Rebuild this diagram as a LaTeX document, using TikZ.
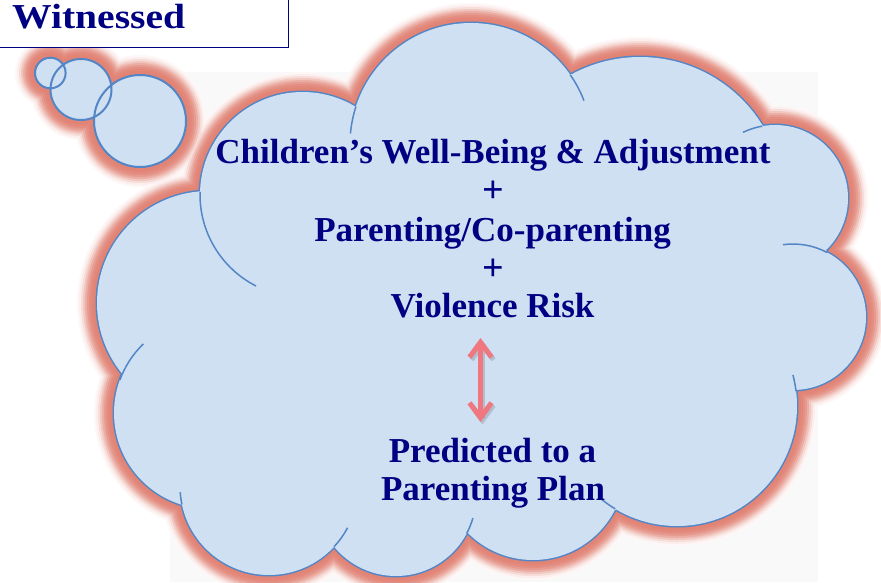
\documentclass[tikz,border=0pt]{standalone}
\usepackage{fontspec}
\usepackage{graphicx}
\setmainfont{Liberation Serif}
\usetikzlibrary{arrows.meta}
\definecolor{navy}{RGB}{0,0,130}
\definecolor{cfill}{RGB}{207,224,242}
\definecolor{cline}{RGB}{82,134,198}
\definecolor{glowc}{RGB}{220,112,96}
\definecolor{arrowc}{RGB}{240,118,128}
\definecolor{bggray}{RGB}{249,249,249}
\tikzset{
  cloudcircles/.style={insert path={
    (cA) circle[radius=102.6] (cB) circle[radius=121] (cC) circle[radius=144]
    (cD) circle[radius=73] (cE) circle[radius=73] (cF) circle[radius=120]
    (cG) circle[radius=92] (cH) circle[radius=80] (cI) circle[radius=89]
    (cJ) circle[radius=96] (cK) circle[radius=112]}},
  cloudpoly/.style={insert path={
    (k1) -- (k2) -- (k3) -- (k4) -- (k5) -- (k6) -- (k7) -- (k8) -- (k9) -- (k10) -- (k11) -- cycle}},
  bubbles/.style={insert path={
    (b1) circle[radius=15.3] (b2) circle[radius=30.5] (b3) circle[radius=46]}},
  txt/.style={text=navy, font=\bfseries\fontsize{35}{42}\selectfont, inner sep=0pt, anchor=base},
  plus/.style={text=navy, font=\bfseries\fontsize{38}{42}\selectfont, inner sep=0pt, anchor=center},
  inner/.style={draw=cline, line width=1.5pt},
  tipbarb/.tip={Straight Barb[length=15pt,width=22pt,line width=5pt]},
}
\begin{document}
\begin{tikzpicture}[x=1pt,y=-1pt]
\useasboundingbox (0,0) rectangle (881,582);
% centres
\coordinate (cA) at (302.6,194.6);
\coordinate (cB) at (471,144);
\coordinate (cC) at (640,201);
\coordinate (cD) at (775,198);
\coordinate (cE) at (793,317);
\coordinate (cF) at (677,406);
\coordinate (cG) at (533,468);
\coordinate (cH) at (396,496);
\coordinate (cI) at (269,486);
\coordinate (cJ) at (210,413);
\coordinate (cK) at (209,303);
% cusps
\coordinate (k1) at (200,192);
\coordinate (k2) at (356,107);
\coordinate (k3) at (572,74);
\coordinate (k4) at (762,125);
\coordinate (k5) at (827,252);
\coordinate (k6) at (795,391);
\coordinate (k7) at (615,510);
\coordinate (k8) at (466,533);
\coordinate (k9) at (334,547);
\coordinate (k10) at (182,505);
\coordinate (k11) at (121,380);
% bubbles
\coordinate (b1) at (50.3,73);
\coordinate (b2) at (81,89.5);
\coordinate (b3) at (140,121);
% background
\fill[bggray] (170,72) rectangle (818,582);
% glow
\begin{scope}[shift={(1,2)}]
\foreach \w/\p in {40/5,36/12,32/24,28/40,24/57,20/70,16/79,12/84,8/87}{
  \path[draw=glowc!\p!white, line width=\w pt, line join=round] [cloudcircles] [bubbles];
}
\end{scope}
% cloud outline and fill
\path[draw=cline, line width=3pt] [cloudcircles];
\path[fill=cfill] [cloudcircles];
\path[fill=cfill] [cloudpoly];
% inner arcs
\draw[inner] ([shift={(198:121)}]cB) arc[start angle=198, end angle=185, radius=121];
\draw[inner] ([shift={(325:121)}]cB) arc[start angle=325, end angle=339, radius=121];
\draw[inner] ([shift={(260:73)}]cD) arc[start angle=260, end angle=244, radius=73];
\draw[inner] ([shift={(298:73)}]cE) arc[start angle=298, end angle=262, radius=73];
\draw[inner] ([shift={(-7:120)}]cF) arc[start angle=-7, end angle=-15, radius=120];
\draw[inner] ([shift={(121:120)}]cF) arc[start angle=121, end angle=129, radius=120];
\draw[inner] ([shift={(28:80)}]cH) arc[start angle=28, end angle=16, radius=80];
\draw[inner] ([shift={(43:89)}]cI) arc[start angle=43, end angle=28, radius=89];
\draw[inner] ([shift={(168:89)}]cI) arc[start angle=168, end angle=176, radius=89];
\draw[inner] ([shift={(200:96)}]cJ) arc[start angle=200, end angle=226, radius=96];
\draw[inner] ([shift={(181.5:102.6)}]cA) arc[start angle=181.5, end angle=117, radius=102.6];
% thought bubbles
\path[fill=cfill] [bubbles];
\path[draw=cline, line width=2pt] [bubbles];
% Witnessed box
\node[draw=navy, fill=white, line width=1.5pt, minimum width=300pt, minimum height=60pt, inner sep=0pt, anchor=south east] (wbox) at (289,48) {};
\node[txt, anchor=base west] (wit) at (12,28) {\scalebox{1.13}[1]{Witnessed}};
% texts
\node[txt] (t1) at (493,163) {Children’s Well-Being \& Adjustment};
\node[plus] (p1) at (493,192) {+};
\node[txt] (t2) at (492.5,241) {Parenting/Co-parenting};
\node[plus] (p2) at (493,270) {+};
\node[txt] (t3) at (492.5,317) {Violence Risk};
\node[txt] (t4) at (492.5,462) {Predicted to a};
\node[txt] (t5) at (493,500) {Parenting Plan};
% arrow
\coordinate (at) at (480.5,338);
\coordinate (ab) at (480.5,422);
\coordinate (ats) at (482.5,340.5);
\coordinate (abs) at (482.5,424.5);
\draw[black, opacity=0.15, line width=5pt, tipbarb-tipbarb] (ats) -- (abs);
\draw[arrowc, line width=5pt, tipbarb-tipbarb] (at) -- (ab);
\end{tikzpicture}
\end{document}
